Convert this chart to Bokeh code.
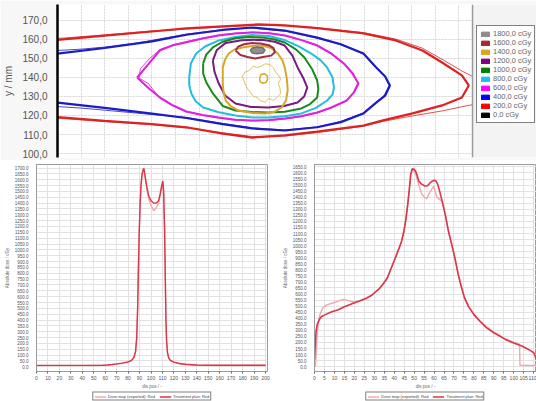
from bokeh.plotting import figure
from bokeh.models import (Range1d, FixedTicker, Legend, LegendItem, Span, BoxAnnotation,
                          NumeralTickFormatter)
from bokeh.layouts import column, row
from bokeh.embed import file_html
from bokeh.resources import INLINE

FONT = "Liberation Sans"

# ---------------- top panel: isodose contours (x / y in mm) ----------------
dose_labels = ["1800,0 cGy", "1600,0 cGy", "1400,0 cGy", "1200,0 cGy", "1000,0 cGy",
               "800,0 cGy", "600,0 cGy", "400,0 cGy", "200,0 cGy", "0,0 cGy"]
dose_colors = ["#8c8c8c", "#a52a2a", "#daa520", "#800080", "#008000",
               "#1ebee8", "#ff00ff", "#0000ff", "#ff0000", "#000000"]
y_ticks = [100, 110, 120, 130, 140, 150, 160, 170]
y_tick_labels = ["100,0", "110,0", "120,0", "130,0", "140,0", "150,0", "160,0", "170,0"]
x_grid_ticks = list(range(0, 180, 10))
x_plot_end = 175.8

iso200_plan_x = [-10, 0, 20, 40, 54.6, 70, 85, 96.3, 110, 129.6, 143.3, 154.6, 162.9, 171.3, 174.2,
                 171.3, 162.9, 150.4, 137.9, 129.6, 110, 96.3, 82.5, 70, 54.6, 40, 20, 0, -10]
iso200_plan_y = [159.3, 159.8, 162.0, 164.2, 165.8, 166.9, 167.9, 167.4, 166.0, 163.2, 159.5, 154.2, 147.9, 141.1, 135.8,
                 129.5, 125.3, 121.1, 117.4, 114.7, 111.5, 109.5, 108.4, 110.5, 113.8, 115.5, 117.2, 119.1, 119.6]
iso200_meas_up_x = [-10, 0, 20, 40, 54.6, 70, 85, 96.3, 110, 129.6, 143.3, 154.6, 162.9, 171.3, 177]
iso200_meas_up_y = [160.4, 160.5, 162.4, 164.5, 165.5, 166.6, 167.5, 167.2, 166.2, 163.6, 160.2, 155.4, 149.6, 143.4, 139.8]
iso200_meas_lo_x = [177, 171.3, 162.9, 150.4, 137.9, 129.6, 110, 96.3, 82.5, 70, 54.6, 40, 20, 0, -10]
iso200_meas_lo_y = [126.0, 124.6, 122.4, 119.8, 116.9, 114.4, 111.0, 109.2, 108.9, 110.9, 113.5, 115.2, 116.8, 118.6, 119.0]

iso400_plan_x = [-10, 0, 20, 40, 54.6, 70, 82.5, 96.3, 110, 120, 129.6, 135, 138.8, 140.8,
                 138.8, 135, 129.6, 120, 110, 96.3, 82.5, 70, 54.6, 40, 20, 0, -10]
iso400_plan_y = [151.4, 152.6, 155.5, 159.0, 162.5, 165.0, 166.3, 164.7, 161.0, 157.5, 152.6, 145.3, 140.5, 135.8,
                 130.5, 126.8, 121.1, 116.5, 113.8, 112.1, 113.2, 115.5, 118.7, 121.0, 124.0, 126.8, 127.9]
iso400_meas_x = [-10, 0, 10, 20, 34, 54.6, 70, 82.5, 96.3, 110, 120, 129.6, 135, 138.8, 140.5,
                 138.5, 135, 129.6, 120, 110, 96.3, 82.5, 70, 54.6, 34, 20, 10, 0, -10]
iso400_meas_y = [154.0, 154.2, 154.9, 156.0, 158.2, 162.8, 165.2, 166.0, 164.4, 160.7, 157.2, 152.3, 145.0, 140.3, 135.8,
                 130.8, 127.0, 121.4, 116.8, 114.0, 112.4, 113.5, 115.8, 119.0, 121.2, 122.8, 123.9, 124.7, 125.0]

iso600_plan_x = [33.75, 38.5, 43.3, 48.5, 54.6, 61.5, 68.3, 75.4, 82.5, 89.5, 96.25, 103, 110, 116, 121.25, 125, 127.5,
                 125.5, 122.5, 116, 110, 103, 96.25, 89.5, 82.5, 75.4, 68.3, 61.5, 54.6, 48.5, 43.3, 38.5, 33.75]
iso600_plan_y = [140.0, 147.0, 154.2, 156.8, 158.5, 160.5, 162.1, 163.2, 163.7, 163.3, 162.1, 159.8, 156.8, 152.5, 147.4, 142.0, 136.8,
                 132.0, 127.9, 124.2, 121.6, 119.6, 118.4, 117.6, 117.4, 117.8, 118.9, 120.3, 122.1, 125.6, 129.6, 134.5, 140.0]
iso600_meas_x = [34.5, 35.1, 39, 43.8, 49, 54.6, 61.5, 68.3, 75.4, 82.5, 89.5, 96.25, 103, 110, 116, 121.5, 125.3, 127.2,
                 125.2, 122.2, 116, 110, 103, 96.25, 89.5, 82.5, 75.4, 68.3, 61.5, 54.6, 48.5, 43.3, 38.6, 34.5]
iso600_meas_y = [139.8, 144.6, 150.0, 155.0, 157.2, 158.9, 160.8, 162.4, 163.4, 163.9, 163.5, 162.3, 160.0, 157.2, 152.9, 147.6, 142.3, 137.0,
                 132.0, 127.6, 124.0, 121.3, 119.3, 118.1, 117.3, 117.1, 117.5, 118.6, 120.0, 121.8, 125.2, 129.0, 136.7, 139.8]

iso800_x = [55.8, 56.5, 58.75, 62.5, 68.3, 75.4, 82.5, 89.5, 96.25, 102, 107.5, 111.5, 114.2, 116.5, 117.1,
            116.5, 114.2, 109.5, 103.3, 96.25, 89.2, 82.5, 75.4, 68.3, 61.7, 58.5, 56.7, 55.8, 55.8]
iso800_y = [140.0, 147.5, 152.6, 156.3, 159.5, 161.3, 162.3, 161.8, 159.7, 156.5, 152.6, 149.0, 145.3, 140.0, 134.7,
            131.0, 127.9, 124.0, 121.1, 119.6, 118.9, 119.0, 120.0, 121.7, 124.2, 127.5, 131.6, 136.0, 140.0]

iso1000_x = [61.7, 63, 65.8, 70, 75.4, 81, 86.7, 92, 96.25, 101, 104.6, 107.8, 110, 110.5, 110, 107, 103.3,
             96.25, 89.2, 82.5, 75.4, 70, 65.8, 63, 61.7, 61.7]
iso1000_y = [147.4, 152.0, 155.8, 158.8, 160.6, 161.3, 161.1, 160.0, 158.4, 154.8, 150.5, 144.5, 138.4, 134.0, 129.5, 126.0, 123.7,
             122.0, 121.6, 121.8, 122.6, 125.0, 131.6, 137.5, 142.1, 147.4]

iso1200_x = [65.8, 67.5, 71.25, 78, 86.7, 92, 96.25, 99.5, 101.7, 104, 105.8, 104.5, 101.7, 96, 89.2, 82, 75.4, 71, 68.3, 66.5, 65.8]
iso1200_y = [148.9, 154.5, 158.2, 159.6, 159.9, 158.8, 156.8, 151.5, 145.3, 140.0, 134.7, 130.0, 126.8, 125.0, 124.2, 124.5, 126.3, 130.5, 136.8, 143.0, 148.9]

iso1400_plan_x = [70, 71, 72.5, 75, 78.3, 82.5, 86.7, 90.5, 93.3, 95.3, 96.25, 97.2, 97.5, 96.8, 95, 92, 87.9,
                  82.5, 76.7, 73.3, 71.25, 70.3, 70, 70]
iso1400_plan_y = [145.3, 149.5, 152.6, 154.7, 155.8, 156.6, 156.8, 155.5, 152.6, 149.0, 145.3, 139.0, 133.2, 128.0, 124.2, 122.0, 121.1,
                  121.3, 122.6, 125.0, 127.9, 132.5, 136.8, 145.3]
iso1400_meas_x = [78.3, 79.5, 81, 83, 84.5, 86, 88, 90, 91.5, 92.5, 93.5, 94.5, 93.5, 94.2, 94.5, 93, 91.5, 89.5,
                  88, 86, 84.5, 83, 81.5, 80.5, 79.5, 78.3]
iso1400_meas_y = [140.5, 143.0, 143.5, 146.0, 145.2, 145.8, 147.2, 146.8, 145.0, 142.5, 141.5, 139.0, 137.0, 134.5, 131.5, 129.5, 128.0, 129.0,
                  127.0, 127.8, 129.5, 130.0, 132.5, 134.0, 136.5, 140.5]
iso1400_core_x = [85.6, 86.2, 87.6, 88.8, 89.0, 88.3, 86.8, 85.8, 85.6]
iso1400_core_y = [139.5, 141.6, 142.0, 141.0, 139.0, 137.4, 137.0, 137.8, 139.5]

iso1600_x = [75.4, 76.5, 79, 82.5, 86, 89.5, 91.5, 92.1, 90.5, 87, 83.8, 80.5, 77.5, 75.4]
iso1600_y = [154.2, 156.2, 157.5, 158.1, 157.9, 157.0, 155.5, 153.3, 151.5, 150.8, 150.0, 150.8, 151.8, 154.2]

iso1800_x = [81.7, 82.5, 84.5, 87, 87.9, 87, 84.5, 82.5, 81.7]
iso1800_y = [154.3, 155.5, 156.0, 155.6, 154.3, 152.9, 152.5, 152.9, 154.3]

# ---------------- bottom-left profile (position / -, dose / cGy) ----------------
bl_x = [0, 10, 20, 30, 40, 50, 58, 62, 66, 70, 75, 80, 83, 85, 86.5, 87.5, 88.3, 89, 89.7, 90.5, 91.3, 92.2,
        93.2, 93.8, 95, 96.5, 98, 100, 102.3, 104.5, 106.6, 108, 109.3, 110.3, 111, 111.8, 112.4, 113,
        113.6, 114.4, 115.5, 117, 120, 125, 130, 140, 150, 160, 170, 180, 190, 200]
bl_plan = [12, 12, 12, 12, 12, 12, 13, 16, 20, 25, 32, 42, 55, 80, 130, 250, 500, 850, 1150, 1400, 1560, 1650,
           1690, 1695, 1620, 1530, 1460, 1420, 1400, 1400, 1420, 1480, 1550, 1590, 1500, 1200, 800, 420,
           220, 120, 75, 55, 40, 28, 22, 16, 14, 13, 13, 13, 13, 13]
bl_map = [10, 10, 10, 10, 10, 11, 12, 15, 19, 24, 31, 41, 54, 78, 128, 245, 490, 840, 1140, 1390, 1550, 1640,
          1680, 1688, 1610, 1510, 1440, 1380, 1335, 1360, 1400, 1460, 1530, 1570, 1480, 1190, 790, 410,
          215, 118, 73, 53, 38, 26, 20, 14, 12, 11, 11, 11, 11, 11]
bl_x_ticks = list(range(0, 201, 10))
bl_y_ticks = list(range(0, 1701, 50))

# ---------------- bottom-right profile ----------------
br_plan_x = [0, 0.4, 0.8, 1.4, 2.4, 3.5, 5.5, 8, 11.9, 15, 19.8, 23, 26.2, 28.8, 30.9, 32.6, 34.1, 36.5, 39.8,
             41.8, 43.6, 44.9, 45.9, 46.8, 47.6, 48.3, 49.1, 49.9, 50.7, 51.5, 52.3, 53.5, 55.4, 56.8, 57.8,
             59, 60.2, 61, 61.8, 62.8, 64.2, 65.8, 67.3, 69, 70.5, 72, 73.5, 75.3, 77.5, 80, 83, 86.4, 90,
             95.8, 100, 104, 106.5, 108.6, 110, 110.7, 111.2]
br_plan = [60, 180, 294, 350, 389, 415, 430, 450, 470, 495, 525, 545, 566, 590, 621, 645, 675, 730, 866,
           950, 1030, 1120, 1221, 1340, 1466, 1589, 1636, 1630, 1616, 1580, 1534, 1510, 1493, 1495, 1515,
           1532, 1540, 1532, 1507, 1450, 1357, 1240, 1112, 1000, 893, 770, 670, 566, 490, 430, 375, 321, 280,
           225, 195, 171, 150, 130, 115, 90, 60]
br_map_x = [0.5, 1, 1.5, 2.5, 4, 5.5, 8, 10, 12.5, 14.5, 16.5, 18.5, 20, 23, 26.2, 28.8, 30.9, 32.6, 34.1,
            36.5, 39.8, 41.8, 43.6, 44.9, 45.9, 46.8, 47.6, 48.3, 49.1, 49.9, 50.7, 52.3, 54, 56.2, 57.8,
            59.8, 61.4, 63, 64.2, 65.8, 67.3, 69, 70.5, 72, 73.5, 75.3, 77.5, 80, 83, 86.4, 90, 95.8, 100,
            102.9, 103.1, 106, 111.4]
br_map = [0, 150, 300, 420, 480, 505, 520, 530, 545, 555, 548, 538, 532, 548, 570, 595, 625, 650, 680,
          735, 870, 955, 1035, 1125, 1225, 1345, 1470, 1590, 1630, 1615, 1600, 1500, 1420, 1385, 1440,
          1490, 1400, 1380, 1357, 1245, 1115, 1005, 898, 775, 675, 572, 495, 436, 380, 326, 285, 230, 200,
          185, 12, 10, 10]
br_x_ticks = list(range(0, 111, 5))
br_y_ticks = list(range(0, 1651, 50))

profile_legend = ["Dose map (exported): Red", "Treatment plan: Red"]
map_color = "#f3a9ab"
plan_color = "#d9364c"

# ======================= TOP FIGURE =======================
top = figure(width=536, height=160, x_range=Range1d(0, 202.9), y_range=Range1d(97.9, 178.4),
             output_backend="svg", toolbar_location=None,
             min_border_left=49, min_border_right=0, min_border_top=4, min_border_bottom=3)
top.background_fill_color = "#ffffff"
top.border_fill_color = "#f7f7f7"
top.outline_line_color = None
top.xaxis.visible = False
top.xgrid.ticker = FixedTicker(ticks=x_grid_ticks)
top.ygrid.ticker = FixedTicker(ticks=y_ticks)
for g in (top.xgrid, top.ygrid):
    g.grid_line_color = "#d6d6d6"
    g.grid_line_dash = "2 1"
    g.grid_line_width = 1
yax = top.yaxis[0]
yax.ticker = FixedTicker(ticks=y_ticks)
yax.major_label_overrides = {t: s for t, s in zip(y_ticks, y_tick_labels)}
yax.axis_line_color = "#000000"
yax.axis_line_width = 2.5
yax.major_tick_line_color = None
yax.minor_tick_line_color = None
yax.major_label_text_font = FONT
yax.major_label_text_font_size = "10px"
yax.major_label_text_color = "#555555"
yax.major_label_standoff = 4
yax.axis_label = "y / mm"
yax.axis_label_text_font = FONT
yax.axis_label_text_font_size = "10px"
yax.axis_label_text_font_style = "normal"
yax.axis_label_text_color = "#555555"
yax.axis_label_standoff = 5

def contour(xs, ys, color, width, alpha=1.0):
    top.line(xs, ys, line_color=color, line_width=width, line_alpha=alpha)

contour(iso200_meas_up_x, iso200_meas_up_y, "#e03030", 1.0, 0.85)
contour(iso200_meas_lo_x, iso200_meas_lo_y, "#e03030", 1.0, 0.85)
contour(iso200_plan_x, iso200_plan_y, "#dd2222", 2.2)
contour(iso400_meas_x, iso400_meas_y, "#2a2ac0", 1.0, 0.85)
contour(iso400_plan_x, iso400_plan_y, "#1c1cc4", 2.2)
contour(iso600_meas_x, iso600_meas_y, "#d82ad8", 1.0, 0.85)
contour(iso600_plan_x, iso600_plan_y, "#e020e0", 2.0)
contour(iso800_x, iso800_y, "#22bde0", 2.0)
contour(iso1000_x, iso1000_y, "#1a8a1a", 2.0)
contour(iso1200_x, iso1200_y, "#7a1a84", 2.0)
contour(iso1400_plan_x, iso1400_plan_y, "#d9a52a", 2.0)
contour(iso1400_meas_x, iso1400_meas_y, "#e0b850", 1.0, 0.9)
contour(iso1400_core_x, iso1400_core_y, "#d9a52a", 1.5)
contour(iso1600_x, iso1600_y, "#a03040", 2.0)
top.patch(iso1800_x, iso1800_y, fill_color="#909090", line_color="#707070", line_width=1.5)

# grey side area right of the plotting region, with its border line
top.add_layout(BoxAnnotation(left=x_plot_end, fill_color="#f3f3f3", fill_alpha=1.0, line_color=None))
top.add_layout(Span(location=x_plot_end, dimension="height", line_color="#9a9a9a", line_width=1.5))

# legend colour swatches (proxy glyphs lying outside the visible range)
swatches = []
for lab, col in zip(dose_labels, dose_colors):
    r = top.quad(left=[-60], right=[-50], top=[60], bottom=[50], fill_color=col, line_color=col)
    swatches.append(LegendItem(label=lab, renderers=[r]))
leg = Legend(items=swatches, location=(419, 34), orientation="vertical",
             label_text_font=FONT, label_text_font_size="7.5px", label_text_color="#666666",
             glyph_width=10, glyph_height=6, label_height=8, label_standoff=3, spacing=0,
             padding=3, margin=0, border_line_color="#000000", border_line_width=1.5,
             background_fill_color="#ffffff", background_fill_alpha=1.0)
top.add_layout(leg, "center")

# ======================= BOTTOM FIGURES =======================
def profile_fig(width, xr, yr, mbl, mbr, xticks, yticks):
    p = figure(width=width, height=231, x_range=Range1d(*xr), y_range=Range1d(*yr),
               output_backend="svg", toolbar_location=None,
               min_border_left=mbl, min_border_right=mbr, min_border_top=4, min_border_bottom=17)
    p.background_fill_color = "#ffffff"
    p.border_fill_color = "#ffffff"
    p.outline_line_color = "#9a9a9a"
    p.xgrid.ticker = FixedTicker(ticks=xticks)
    p.ygrid.ticker = FixedTicker(ticks=yticks)
    for g in (p.xgrid, p.ygrid):
        g.grid_line_color = "#e2e2e2"
        g.grid_line_width = 1
    xa = p.xaxis[0]
    xa.ticker = FixedTicker(ticks=xticks)
    xa.axis_line_color = "#9a9a9a"
    xa.major_tick_out = 2
    xa.major_tick_in = 0
    xa.major_tick_line_color = "#666666"
    xa.minor_tick_line_color = None
    xa.major_label_standoff = 2
    xa.major_label_text_font = FONT
    xa.major_label_text_font_size = "5px"
    xa.major_label_text_color = "#555555"
    xa.axis_label = "dis pos / -"
    xa.axis_label_text_font = FONT
    xa.axis_label_text_font_size = "4.5px"
    xa.axis_label_text_font_style = "normal"
    xa.axis_label_text_color = "#666666"
    xa.axis_label_standoff = 1
    ya = p.yaxis[0]
    ya.ticker = FixedTicker(ticks=yticks)
    ya.formatter = NumeralTickFormatter(format="0.0")
    ya.axis_line_color = "#9a9a9a"
    ya.major_tick_line_color = None
    ya.minor_tick_line_color = None
    ya.major_label_standoff = 2
    ya.major_label_text_font = FONT
    ya.major_label_text_font_size = "4.5px"
    ya.major_label_text_color = "#555555"
    ya.axis_label = "Absolute dose / cGy"
    ya.axis_label_text_font = FONT
    ya.axis_label_text_font_size = "4.5px"
    ya.axis_label_text_font_style = "normal"
    ya.axis_label_text_color = "#666666"
    ya.axis_label_standoff = 2
    return p

def legend_fig(width, left_pad):
    f = figure(width=width, height=10, x_range=Range1d(0, 1), y_range=Range1d(0, 1),
               x_axis_type=None, y_axis_type=None,
               output_backend="svg", toolbar_location=None,
               min_border_left=left_pad, min_border_right=0, min_border_top=0, min_border_bottom=0)
    f.outline_line_color = None
    f.background_fill_color = "#ffffff"
    f.border_fill_color = "#ffffff"
    rm = f.line([-5, -4], [-5, -4], line_color=map_color, line_width=1.4)
    rp = f.line([-5, -4], [-5, -4], line_color=plan_color, line_width=1.6)
    lg = Legend(items=[LegendItem(label=profile_legend[0], renderers=[rm]),
                       LegendItem(label=profile_legend[1], renderers=[rp])],
                location="center", orientation="horizontal",
                label_text_font=FONT, label_text_font_size="4px", label_text_color="#444444",
                glyph_width=12, glyph_height=4, label_height=4, label_standoff=2, spacing=4,
                padding=1, margin=0, border_line_color="#000000", border_line_width=1,
                background_fill_color="#ffffff", background_fill_alpha=1.0)
    f.add_layout(lg, "center")
    return f

bl = profile_fig(278, (0, 201.7), (-40, 1730), 33, 11, bl_x_ticks, bl_y_ticks)
bl.line(bl_x, bl_map, line_color=map_color, line_width=1.4)
bl.line(bl_x, bl_plan, line_color=plan_color, line_width=1.4)

br = profile_fig(258, (0, 111.4), (-40, 1670), 24, 0, br_x_ticks, br_y_ticks)
br.line(br_map_x, br_map, line_color=map_color, line_width=1.4)
br.line(br_plan_x, br_plan, line_color=plan_color, line_width=1.6)

left_col = column(bl, legend_fig(278, 36), spacing=0)
right_col = column(br, legend_fig(258, 36), spacing=0)
layout = column(top, row(left_col, right_col, spacing=0), spacing=0)

open("out.html", "w").write(file_html(layout, INLINE))
